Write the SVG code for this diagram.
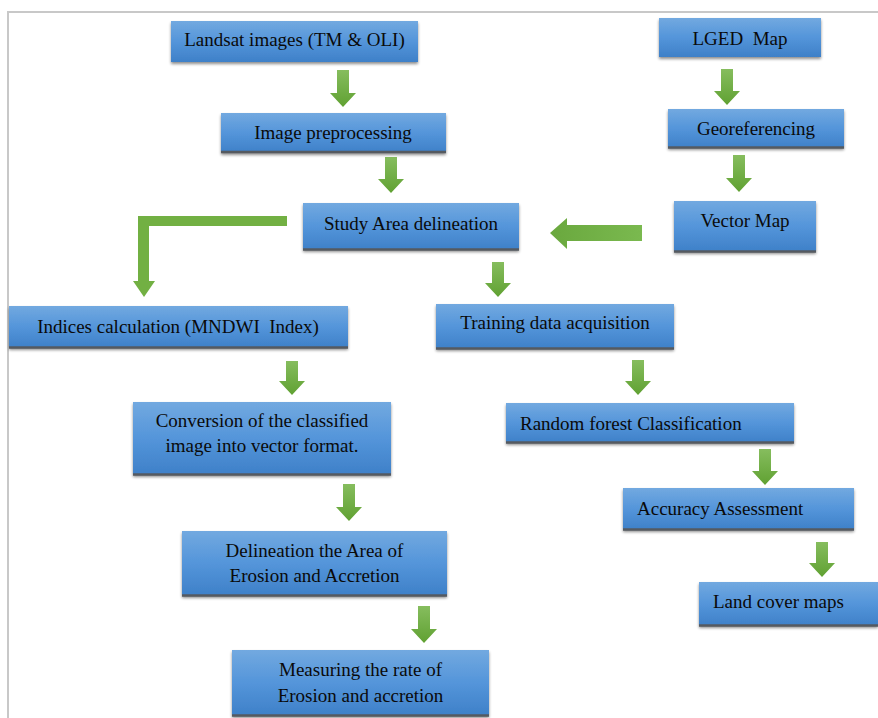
<svg xmlns="http://www.w3.org/2000/svg" width="878" height="718" viewBox="0 0 878 718">
<defs>
<linearGradient id="boxg" x1="0" y1="0" x2="0" y2="1">
<stop offset="0" stop-color="#72a9e0"/>
<stop offset="0.5" stop-color="#5495da"/>
<stop offset="1" stop-color="#3e80c8"/>
</linearGradient>
<linearGradient id="arrg" x1="0" y1="0" x2="0" y2="1">
<stop offset="0" stop-color="#86bd5e"/>
<stop offset="1" stop-color="#60a132"/>
</linearGradient>
<linearGradient id="arrh" x1="0" y1="0" x2="1" y2="0">
<stop offset="0" stop-color="#6aa83e"/>
<stop offset="1" stop-color="#7ab94f"/>
</linearGradient>
<filter id="sh" x="-5%" y="-20%" width="110%" height="150%">
<feGaussianBlur in="SourceAlpha" stdDeviation="1.5"/>
<feOffset dx="0" dy="2" result="b"/>
<feComponentTransfer><feFuncA type="linear" slope="0.45"/></feComponentTransfer>
<feMerge><feMergeNode/><feMergeNode in="SourceGraphic"/></feMerge>
</filter>
</defs>
<style>
.box{fill:url(#boxg);filter:url(#sh);}
.edge{stroke:#555a60;stroke-width:2.5;}
.t{font-size:19px;fill:#0a0a0a;text-anchor:middle;}
.l{text-anchor:start;}
.arr{fill:url(#arrg);}
.frame{fill:none;stroke:#c8c8c8;stroke-width:2;}
</style>
<rect width="878" height="718" fill="#ffffff"/>
<path class="frame" d="M8,718 V12 H878"/>

<g id="connectors">
<path class="arr" d="M337,70 h12 v23 h7 l-13,14 l-13,-14 h7 z"/>
<path class="arr" d="M385,157 h12 v22 h7 l-13,14 l-13,-14 h7 z"/>
<path class="arr" d="M721,69 h12 v22 h7 l-13,14 l-13,-14 h7 z"/>
<path class="arr" d="M733,155 h12 v23 h7 l-13,14 l-13,-14 h7 z"/>
<path fill="url(#arrh)" d="M642,225 v16 h-75 v8 l-17,-16 l17,-15 v7 z"/>
<path fill="#72b043" d="M287,216 v10 h-138 v55 h6 l-11,16 l-11,-16 h5 v-65 z"/>
<path class="arr" d="M492,262 h12 v21 h7 l-13,14 l-13,-14 h7 z"/>
<path class="arr" d="M286,361 h12 v20 h7 l-13,14 l-13,-14 h7 z"/>
<path class="arr" d="M632,360 h12 v21 h7 l-13,14 l-13,-14 h7 z"/>
<path class="arr" d="M343,484 h12 v23 h7 l-13,14 l-13,-14 h7 z"/>
<path class="arr" d="M759,449 h12 v22 h7 l-13,14 l-13,-14 h7 z"/>
<path class="arr" d="M418,606 h12 v23 h7 l-13,14 l-13,-14 h7 z"/>
<path class="arr" d="M816,542 h12 v21 h7 l-13,14 l-13,-14 h7 z"/>
</g>

<g font-family="Liberation Serif, Times New Roman, serif">
<g id="n-landsat">
<rect class="box" x="171" y="21" width="247" height="41"/>
<text class="t" x="294.5" y="46">Landsat images (TM &amp; OLI)</text>
</g>
<g id="n-lged">
<rect class="box" x="659" y="18" width="162" height="39"/>
<text class="t" x="740" y="45" xml:space="preserve">LGED  Map</text>
</g>
<g id="n-preproc">
<rect class="box" x="221" y="113" width="225" height="40"/>
<line class="edge" x1="221" y1="152" x2="446" y2="152"/>
<text class="t" x="333" y="139">Image preprocessing</text>
</g>
<g id="n-georef">
<rect class="box" x="668" y="109" width="176" height="39"/>
<line class="edge" x1="668" y1="147.5" x2="844" y2="147.5"/>
<text class="t" x="756" y="135">Georeferencing</text>
</g>
<g id="n-study">
<rect class="box" x="303" y="203" width="216" height="47"/>
<line class="edge" x1="303" y1="249.5" x2="519" y2="249.5"/>
<text class="t" x="411" y="230">Study Area delineation</text>
</g>
<g id="n-vector">
<rect class="box" x="674" y="201" width="142" height="51"/>
<line class="edge" x1="674" y1="251.5" x2="816" y2="251.5"/>
<text class="t" x="745" y="227">Vector Map</text>
</g>
<g id="n-indices">
<rect class="box" x="9" y="306" width="339" height="42"/>
<line class="edge" x1="9" y1="347.5" x2="348" y2="347.5"/>
<text class="t" x="178" y="333" xml:space="preserve">Indices calculation (MNDWI  Index)</text>
</g>
<g id="n-training">
<rect class="box" x="436" y="304" width="238" height="45"/>
<line class="edge" x1="436" y1="348.5" x2="674" y2="348.5"/>
<text class="t" x="555" y="329">Training data acquisition</text>
</g>
<g id="n-conversion">
<rect class="box" x="133" y="402" width="258" height="73"/>
<line class="edge" x1="133" y1="474.5" x2="391" y2="474.5"/>
<text class="t" x="262" y="427">Conversion of the classified</text>
<text class="t" x="262" y="452">image into vector format.</text>
</g>
<g id="n-random">
<rect class="box" x="506" y="403" width="288" height="40"/>
<line class="edge" x1="506" y1="442.5" x2="794" y2="442.5"/>
<text class="t l" x="520" y="430">Random forest Classification</text>
</g>
<g id="n-accuracy">
<rect class="box" x="623" y="488" width="231" height="42"/>
<line class="edge" x1="623" y1="529.5" x2="854" y2="529.5"/>
<text class="t l" x="637" y="515">Accuracy Assessment</text>
</g>
<g id="n-delineation">
<rect class="box" x="182" y="531" width="265" height="65"/>
<line class="edge" x1="182" y1="595.5" x2="447" y2="595.5"/>
<text class="t" x="314.5" y="557">Delineation the Area of</text>
<text class="t" x="314.5" y="582">Erosion and Accretion</text>
</g>
<g id="n-landcover">
<rect class="box" x="699" y="582" width="179" height="44"/>
<line class="edge" x1="699" y1="625.5" x2="878" y2="625.5"/>
<text class="t l" x="713" y="608">Land cover maps</text>
</g>
<g id="n-measuring">
<rect class="box" x="232" y="650" width="257" height="66"/>
<line class="edge" x1="232" y1="715.5" x2="489" y2="715.5"/>
<text class="t" x="360.5" y="676">Measuring the rate of</text>
<text class="t" x="360.5" y="702">Erosion and accretion</text>
</g>
</g>
</svg>
